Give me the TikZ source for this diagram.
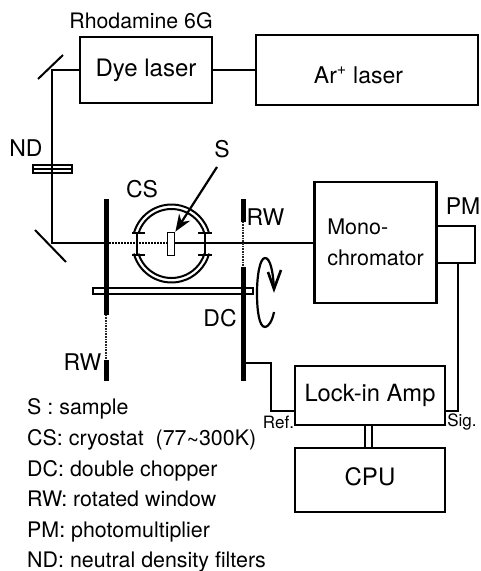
\documentclass[tikz,border=0pt]{standalone}
\usepackage{fontspec}
\setmainfont{TeX Gyre Heros}
\usetikzlibrary{arrows.meta}
\tikzset{
  x=1pt,y=-1pt,
  boxn/.style={draw=black,line width=2.4pt,inner sep=0pt,align=center},
  lab/.style={inner sep=0pt,font=\fontsize{23}{26}\selectfont},
  small/.style={inner sep=0pt,font=\fontsize{17}{20}\selectfont},
  legend/.style={inner sep=0pt,anchor=base west,font=\fontsize{21.4}{24}\selectfont},
  beam/.style={line width=2pt},
  wire/.style={line width=2pt},
  thick window/.style={line width=5pt},
  filter/.style={line width=1.3pt},
  wavy/.style={line width=1.6pt,dash pattern=on 1.5pt off 1.5pt},
  fine/.style={line width=2.4pt,dash pattern=on 1pt off 0.6pt,black!85},
  cryo/.style={line width=2pt},
}
\begin{document}
\begin{tikzpicture}
\useasboundingbox (0,0) rectangle (480,571);
% boxes
\node[boxn,minimum width=132pt,minimum height=66pt,font=\fontsize{24}{26}\selectfont] (dye) at (146,70) {Dye laser};
\node[boxn,minimum width=222pt,minimum height=70pt] (ar) at (367,70) {};
\node[lab,font=\fontsize{23}{26}\selectfont] (arl) at (358.5,75) {Ar\textsuperscript{+} laser};
\node[boxn,minimum width=122pt,minimum height=121pt,align=left,font=\fontsize{21.5}{31}\selectfont] (mono) at (375.5,242.5) {Mono-\\chromator};
\node[boxn,minimum width=38pt,minimum height=37pt] (pm) at (456,244.5) {};
\node[boxn,minimum width=150pt,minimum height=59pt,font=\fontsize{23.7}{26}\selectfont] (lock) at (370,395.5) {Lock-in Amp};
\node[boxn,minimum width=150pt,minimum height=64pt,font=\fontsize{24}{26}\selectfont] (cpu) at (370,480) {\raisebox{6pt}{CPU}};
% coordinates
\coordinate (m1a) at (38,79); \coordinate (m1b) at (63,55);
\coordinate (m1) at (52,70);
\coordinate (m2a) at (35,230); \coordinate (m2b) at (66,262);
\coordinate (m2) at (52,243);
\coordinate (wl) at (106,243);
\coordinate (sl) at (167,243);
\coordinate (sr) at (175,243);
% mirrors and beam
\draw[wire] (m1a) -- (m1b);
\draw[wire] (m2a) -- (m2b);
\draw[beam] (dye.west |- m1) -- (m1) -- (m2) -- (wl);
\draw[beam] (dye.east) -- (ar.west);
\draw[beam] (sr) -- (mono.west |- sr);
\draw[wavy] (wl) -- (sl);
% ND filter
\node[draw=black,line width=1.3pt,fill=white,minimum width=39pt,minimum height=8pt,inner sep=0pt] (nd) at (52.5,169) {};
\draw[filter] (nd.west) -- (nd.east);
\draw[beam] (52,160) -- (52,178);
% windows
\draw[thick window] (106,199) -- (106,315);
\draw[fine] (106,315) -- (106,360);
\draw[thick window] (106,360) -- (106,381);
\draw[thick window] (243,199) -- (243,222);
\draw[fine] (243,222) -- (243,267);
\draw[thick window] (243,267) -- (243,381);
% axis
\node[draw=black,line width=2pt,fill=white,minimum width=160pt,minimum height=6pt,inner sep=0pt] (axis) at (173,291) {};
\draw[thick window] (106,286) -- (106,296);
\draw[thick window] (243,286) -- (243,296);
% cryostat
\coordinate (cc) at (171.5,243.5);
\draw[cryo] (cc) ++(165:39pt) arc[start angle=165,end angle=15,radius=39pt];
\draw[cryo] (cc) ++(195:39pt) arc[start angle=195,end angle=345,radius=39pt];
\draw[cryo] (cc) ++(163:34.5pt) arc[start angle=163,end angle=17,radius=34.5pt];
\draw[cryo] (cc) ++(197:34.5pt) arc[start angle=197,end angle=343,radius=34.5pt];
\draw[line width=2.6pt] (132,233) -- (145,233);
\draw[line width=2.6pt] (198,233) -- (212,233);
\draw[line width=2.6pt] (132,255) -- (145,255);
\draw[line width=2.6pt] (198,255) -- (212,255);
\draw[line width=1.6pt] (137,233) -- (137,255);
\draw[line width=1.6pt] (205,233) -- (205,255);
\node[draw=black,line width=1.8pt,fill=white,minimum width=7pt,minimum height=23pt,inner sep=0pt] (sample) at (171,244) {};
% labels
\node[lab,font=\fontsize{21.3}{24}\selectfont] (rho) at (141,21) {Rhodamine 6G};
\node[lab] (ndl) at (26,148) {ND};
\node[lab] (s) at (222,149) {S};
\node[lab] (cs) at (142,189) {CS};
\node[lab] (rw1) at (265.5,217) {RW};
\node[lab] (rw2) at (82.5,362) {RW};
\node[lab] (dc) at (220,318) {DC};
\node[lab] (pml) at (463,206) {PM};
\node[small] (ref) at (278.5,422) {Ref.};
\node[small] (sig) at (462,422) {Sig.};
% S arrow
\coordinate (sa) at (217,167);
\draw[line width=2.2pt,-{Stealth[length=17pt,width=13pt]}] (sa) -- (sample.north east);
% rotation
\coordinate (r0) at (274,312);
\coordinate (r1) at (265,327);
\coordinate (r2) at (257,293);
\coordinate (r3) at (265,258);
\coordinate (r4) at (274,289);
\draw[line width=2.2pt] (r0) .. controls (272,322) and (268,327) .. (r1)
  .. controls (259,327) and (257,310) .. (r2)
  .. controls (257,275) and (260,258) .. (r3)
  .. controls (270,258) and (273,270) .. (r4);
\coordinate (v1) at (268,272);
\coordinate (v2) at (281,270);
\draw[line width=2.6pt,line join=miter] (v1) -- (r4) -- (v2);
% wires
\coordinate (c1) at (271,363);
\coordinate (c0) at (243,363);
\coordinate (c2) at (271,411);
\coordinate (c3) at (458,411);
\draw[wire] (c0) -- (c1) -- (c2) -- (c2 -| lock.west);
\draw[wire] (lock.east |- c3) -- (c3) -- (c3 |- pm.south);
\draw[wire] (365,425) -- (365,448);
\draw[wire] (372,425) -- (372,448);
% legend
\node[legend] (l1) at (27,414) {S : sample};
\node[legend] (l2) at (27,445) {CS: cryostat\ \ (77\raisebox{-2pt}{\textasciitilde}300K)};
\node[legend] (l3) at (27,476) {DC: double chopper};
\node[legend] (l4) at (27,506) {RW: rotated window};
\node[legend] (l5) at (27,537) {PM: photomultiplier};
\node[legend] (l6) at (27,567) {ND: neutral density filters};
\end{tikzpicture}
\end{document}
